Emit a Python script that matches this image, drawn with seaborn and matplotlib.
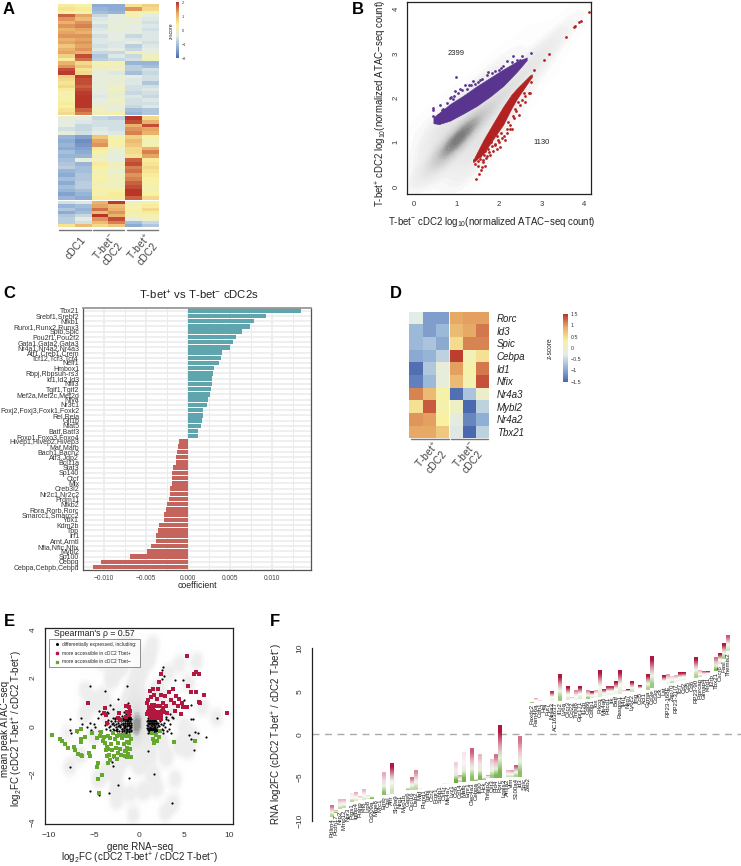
import numpy as np
import pandas as pd
import seaborn as sns
import matplotlib.pyplot as plt
from matplotlib.colors import LinearSegmentedColormap, to_rgb
from matplotlib.lines import Line2D
from matplotlib.cm import ScalarMappable
from matplotlib.colors import Normalize

W, H = 741, 866

# panel A, z-scores read row by row
sample_cols = ['cDC1_1', 'cDC1_2', 'neg_1', 'neg_2', 'pos_1', 'pos_2']
heat_a_top = [
    [0.4, 0.3, -1.1, -1.1, 0.5, 0.7], [0.5, 0.4, -1.0, -1.1, 1.2, 0.6], [0.3, 0.2, -0.9, -1.0, 0.2, 0.3],
    [1.5, 1.1, -0.6, -0.3, 0.2, -0.3], [1.2, 0.9, -0.4, -0.3, -0.2, -0.4], [1.0, 1.2, -0.3, -0.2, -0.1, -0.5],
    [1.2, 1.3, -0.5, -0.2, -0.3, -0.4], [1.0, 1.1, -0.4, -0.2, -0.3, -0.5], [1.1, 1.0, -0.3, -0.3, -0.2, -0.4],
    [1.2, 1.2, -0.5, -0.3, -0.6, -0.4], [1.0, 1.1, -0.4, -0.3, -0.4, -0.4], [1.1, 1.2, -0.4, -0.4, -0.3, -0.5],
    [0.8, 1.1, -0.5, -0.4, -0.7, -0.4], [1.0, 1.2, -0.4, -0.3, -0.6, -0.3], [1.1, 1.0, -0.6, -0.6, 0.1, -0.2],
    [0.7, 1.6, -0.8, -0.4, -0.6, 0.0], [0.4, 1.4, -0.7, -0.6, -0.5, 0.1], [1.0, 0.6, 0.2, 0.2, -1.0, -1.0],
    [1.2, 0.8, 0.1, -0.1, -0.7, -0.9], [1.6, 0.5, -0.1, 0.0, -0.7, -0.5], [1.7, 0.6, -0.2, -0.4, -0.9, -0.6],
    [0.7, 1.7, -0.3, -0.2, -0.3, -0.5], [0.6, 1.6, -0.2, -0.1, -0.4, -0.5], [0.5, 1.6, -0.3, -0.2, -0.4, -0.8],
    [0.6, 1.5, -0.1, 0.0, -0.5, -0.5], [0.4, 1.6, -0.3, 0.0, -0.5, -0.4], [0.2, 1.7, -0.3, -0.1, -0.6, -0.5],
    [0.2, 1.9, -0.4, -0.2, -0.4, -0.6], [0.3, 2.0, -0.3, 0.0, -0.5, -0.4], [0.4, 1.9, -0.2, -0.1, -0.5, -0.5],
    [0.3, 1.8, -0.1, -0.2, -0.6, -0.4], [0.5, 1.5, 0.0, -0.2, -0.9, -0.8], [0.6, 1.3, 0.1, 0.2, -1.0, -0.8],
]
heat_a_mid = [
    [-0.2, -0.3, -0.6, -0.7, 1.9, 0.6], [-0.3, -0.4, -0.5, -0.5, 1.6, 1.0], [-0.3, -0.6, -0.5, -0.5, 1.0, 1.6],
    [-0.5, -0.6, -0.4, -0.5, 1.2, 1.1], [-0.2, -0.5, -0.3, -0.4, 1.3, 1.0], [-1.0, -1.2, 0.8, 0.2, 0.7, 0.3],
    [-1.1, -1.4, 1.1, 0.3, 0.9, 0.1], [-1.0, -1.3, 1.2, 0.2, 0.8, 0.2], [-1.1, -1.2, 0.4, 0.0, 0.6, 1.0],
    [-0.9, -1.1, 0.3, -0.2, 0.6, 1.3], [-1.0, -1.0, 0.1, -0.2, 0.5, 1.1], [-0.9, -0.2, 0.0, -0.3, 1.5, 0.4],
    [-0.8, -1.0, 0.4, 0.1, 1.6, 0.5], [-0.7, -0.9, 0.3, 0.0, 1.3, 0.6], [-1.0, -0.9, 0.2, -0.1, 1.4, 0.5],
    [-1.1, -0.8, 0.2, 0.0, 1.2, 0.4], [-0.9, -0.8, 0.3, 0.1, 1.3, 0.3], [-1.1, -0.7, 0.1, 0.0, 1.5, 0.3],
    [-0.9, -0.7, 0.2, 0.1, 1.6, 0.2], [-1.0, -0.9, 0.3, 0.3, 1.9, 0.2], [-1.2, -1.0, 0.2, 0.4, 1.8, 0.3],
    [-1.0, -1.1, 0.4, 0.4, 1.5, 0.6],
]
heat_a_low = [
    [-0.5, -0.4, 1.0, 1.7, 0.0, 0.2], [-1.0, -0.9, 1.1, 0.9, 0.2, 0.4], [-0.8, -1.0, 1.4, 1.0, 0.3, 0.6],
    [-1.1, -0.9, 0.9, 1.2, 0.1, 0.4], [-0.8, -0.6, 1.8, 1.0, 0.2, 0.2], [-0.7, -0.3, 1.2, 1.6, -0.3, 0.0],
    [-0.7, -0.5, 0.9, 1.3, -0.9, -0.6], [0.5, 0.9, 0.6, 0.8, -1.1, -0.8],
]
heat_colors = ['#4B69AE', '#93B2D6', '#E3ECE6', '#F9F1A0', '#E9AE68', '#B8352A']

# panel B, edges of the two dense clouds and the stragglers around them
purple_x = [0.47, 0.60, 0.86, 1.17, 1.48, 1.79, 2.10, 2.42, 2.65]
purple_low = [1.43, 1.41, 1.49, 1.65, 1.82, 2.03, 2.27, 2.59, 2.85]
purple_high = [1.56, 1.66, 1.86, 2.05, 2.26, 2.45, 2.64, 2.82, 2.91]
red_x = [1.40, 1.64, 1.87, 2.10, 2.30, 2.42, 2.73, 2.77]
red_high = [0.60, 1.05, 1.43, 1.80, 2.08, 2.21, 2.51, 2.53]
red_low = [0.55, 0.75, 1.08, 1.40, 1.78, 1.98, 2.42, 2.47]
purple_pts_x = [1.0, 2.34, 2.55, 2.75, 2.2, 1.75, 1.72, 2.05, 1.4, 1.45, 1.3, 1.2, 1.13, 1.1, 0.98, 0.87, 0.93, 0.62,
                0.47, 0.47, 0.7, 0.45, 0.85, 1.05, 1.55, 1.6, 1.9, 2.1, 2.3, 2.42, 2.6, 2.5, 0.52, 0.58, 0.66, 0.78,
                1.25, 1.5, 1.85, 2.0, 0.55, 0.5, 0.95, 1.35]
purple_pts_y = [2.47, 2.95, 2.95, 3.02, 2.82, 2.58, 2.52, 2.68, 2.38, 2.32, 2.28, 2.28, 2.17, 2.2, 2.15, 2.02, 1.98, 1.83,
                1.78, 1.72, 1.75, 1.6, 2.0, 2.1, 2.4, 2.42, 2.6, 2.72, 2.8, 2.85, 2.85, 2.85, 1.5, 1.62, 1.72, 1.88,
                2.2, 2.36, 2.55, 2.62, 1.45, 1.52, 2.05, 2.3]
red_pts_x = [1.47, 1.53, 1.58, 1.6, 1.68, 1.52, 1.63, 1.8, 1.95, 2.03, 2.15, 2.3, 2.27, 2.47, 2.6, 2.73, 2.7, 2.75, 2.83,
             3.06, 3.17, 3.56, 3.75, 3.78, 3.87, 3.93, 4.1, 1.42, 1.5, 1.57, 1.72, 1.86, 1.9, 2.0, 2.08, 2.12, 2.2,
             2.25, 2.35, 2.4, 2.5, 2.55, 2.62, 1.75, 1.66, 1.55, 1.7, 1.78, 1.84, 1.92, 1.98, 2.05, 2.18, 2.22, 2.32,
             2.38, 2.45, 2.58, 1.45, 1.62, 1.68, 1.82, 1.96]
red_pts_y = [0.17, 0.28, 0.38, 0.44, 0.47, 0.46, 0.55, 0.72, 0.85, 0.9, 1.05, 1.3, 1.3, 1.62, 1.9, 2.1, 2.12, 2.35, 2.63,
             2.85, 2.99, 3.38, 3.6, 3.62, 3.7, 3.73, 3.93, 0.6, 0.58, 0.62, 0.7, 0.8, 0.95, 1.0, 1.1, 1.15, 1.3,
             1.4, 1.55, 1.7, 1.85, 1.95, 2.05, 0.85, 0.72, 0.68, 0.64, 0.78, 0.92, 0.96, 1.05, 1.2, 1.22, 1.45, 1.6,
             1.75, 1.9, 2.12, 0.52, 0.6, 0.8, 1.0, 1.15]
dens_b_x = [1.0, 1.0, 1.2, 0.8, 1.5, 1.8, 2.1, 2.4, 2.7, 3.0, 3.3, 3.6, 3.9, 0.6, 0.4, 0.1, 0.3, 0.1, 0.8, 1.0, 0.9, 0.2,
            1.4, 0.7, 1.8, 1.1, 2.2, 1.5, 2.6, 1.9, 3.0, 2.4, 0.4, 1.3, 0.6, 1.6]
dens_b_y = [1.0, 1.1, 1.25, 0.75, 1.5, 1.75, 2.1, 2.4, 2.7, 3.0, 3.3, 3.6, 3.85, 0.6, 1.0, 1.2, 0.3, 0.2, 0.4, 0.05, 0.1, 0.6,
            0.8, 1.3, 1.2, 1.8, 1.7, 2.2, 2.2, 2.6, 2.7, 3.0, 0.6, 0.3, 1.6, 0.6]
dens_b_w = [30, 25, 18, 10, 12, 9, 7, 6, 5, 3.5, 2.5, 1.5, 0.6, 4, 1.5, 1.2, 1.2, 0.8, 2, 0.8, 0.8, 0.8,
            10, 10, 6, 6, 4, 4, 2.5, 2.5, 1.5, 1.5, 1.5, 2, 2, 2]

# panel C
motif_names = ['Tbx21', 'Srebf1,Srebf2', 'Nfkb1', 'Runx1,Runx2,Runx3', 'Spib,Spic', 'Pou2f1,Pou2f2',
               'Gata1,Gata2,Gata3', 'Nr4a1,Nr4a2,Nr4a3', 'Atf1,Creb1,Crem', 'Tcf12,Tcf3,Tcf4', 'Nelf1', 'Hmbox1',
               'Rbpj,Rbpsuh-rs3', 'Id1,Id2,Id3', 'Nfil3', 'Tgif1,Tgif2', 'Mef2a,Mef2c,Mef2d', 'Nfya', 'Nr3c1',
               'Foxj2,Foxj3,Foxk1,Foxk2', 'Rel,Rela', 'Gfi1b', 'Nfat5', 'Batf,Batf3', 'Foxo1,Foxo3,Foxo4',
               'Hivep1,Hivep2,Hivep3', 'Maf,Mafb', 'Bach1,Bach2', 'Atf3,Jdp2', 'Bcl11a', 'Stat3', 'Sp140', 'Ctcf',
               'Mlx', 'Creb3l2', 'Nr2c1,Nr2c2', 'Prdm11', 'Nfkb2', 'Rora,Rorb,Rorc', 'Smarcc1,Smarcc2', 'Ybx1',
               'Kdm2b', 'Tbp', 'Irf1', 'Arnt,Arntl', 'Nfia,Nfic,Nfix', 'Mybl2', 'Sp100', 'Cebpg', 'Cebpa,Cebpb,Cebpd']
motif_coef = [0.0134, 0.0092, 0.0078, 0.0073, 0.0064, 0.0057, 0.0053, 0.0050, 0.0040, 0.0039, 0.0037, 0.0030,
              0.0029, 0.0028, 0.0028, 0.0027, 0.0026, 0.0024, 0.0022, 0.0018, 0.0018, 0.0016, 0.0015, 0.0012, 0.0011,
              -0.0011, -0.0012, -0.0014, -0.0015, -0.0015, -0.0018, -0.0019, -0.0019, -0.0019, -0.0022, -0.0022,
              -0.0023, -0.0025, -0.0026, -0.0029, -0.0029, -0.0035, -0.0036, -0.0038, -0.0038, -0.0045, -0.0049,
              -0.0069, -0.0104, -0.0113]

# panel D
d_genes = ['Rorc', 'Id3', 'Spic', 'Cebpa', 'Id1', 'Nfix', 'Nr4a3', 'Mybl2', 'Nr4a2', 'Tbx21']
d_values = [
    [-0.3, -1.1, -1.1, 0.95, 1.0, 1.0],
    [-0.85, -1.1, -0.85, 0.8, 0.95, 1.2],
    [-0.85, -0.75, -1.0, 0.5, 1.15, 1.15],
    [-1.0, -0.9, -0.6, 1.5, 0.1, 0.45],
    [-1.5, -0.7, -0.2, 1.0, 0.2, 1.2],
    [-1.35, -0.85, -0.2, 0.8, 0.15, 1.4],
    [1.15, 0.8, 0.25, -1.5, -0.75, -0.05],
    [0.45, 1.35, 0.2, 0.0, -1.55, -0.6],
    [1.05, 1.0, 0.3, -0.25, -1.3, -0.95],
    [0.95, 0.95, 0.7, -0.35, -1.55, -0.6],
]

# panel E
e_black_x = [-5.4, -3.8, -2.3, -1.3, -1.2, 2.7, 2.5, 2.8, 2.5, 4.0, 4.9, 5.0, 5.7, 6.0, 5.8, 8.6, 6.2, 6.5, 7.4, 5.8, 5.5, 6.1,
             1.6, 3.6, -2.3, -1.1, -5.4, -4.4, -3.3, -7.7, -2.9, -3.0, -2.9, -7.7, -6.5, -7.7, -7.6, -6.9, -6.3, -5.8, -5.4,
             -5.0, -4.6, -4.5, -4.5, -4.9, -5.3, -4.2, -3.2, -2.9, -2.7, -1.7, -2.6, -3.4, -3.6,
             -3.8, -3.6, -3.4, -3.2, -3.0, -2.8, -2.6, -2.4, -2.2, -2.0, -1.8, -1.6, -1.4, -1.2, -1.0, -0.9,
             -3.7, -3.3, -2.9, -2.5, -2.1, -1.9, -1.7, -1.5, -1.3, -1.1, -0.95, -3.5, -3.1, -2.7, -2.3, -2.0, -1.8, -1.6, -1.4,
             -1.2, -1.0, -2.5, -2.2, -1.9, -1.7, -1.5, -1.3, -1.1, -0.9, -2.9, -2.4, -2.1, -1.8, -1.6, -1.4, -1.2, -1.0, -1.5,
             -1.2, -1.0, -1.7, -0.9, -1.1, -1.3,
             -2.95, -2.65, -2.35, -2.15, -1.95, -1.75, -1.55, -1.35, -1.15, -1.05, -0.92, -2.05, -1.85, -1.65, -1.45, -1.25,
             -1.08, -0.98, -1.95, -1.72, -1.52, -1.32, -1.12, -0.96, -2.25, -1.9, -1.62, -1.42, -1.22, -1.02, -3.2, -2.75,
             -2.55, -1.78, -1.58, -1.38, -1.18, -0.94, -1.48, -1.28, -1.06,
             0.9, 1.0, 1.1, 1.2, 1.3, 1.4, 1.5, 1.6, 1.7, 1.8, 1.9, 2.0, 2.1, 2.2, 0.95, 1.05, 1.15, 1.25, 1.35, 1.45,
             1.55, 1.65, 1.75, 1.85, 1.95, 2.05, 0.9, 1.0, 1.1, 1.2, 1.3, 1.4, 1.5, 1.6, 1.7, 1.8, 1.9, 0.95, 1.1, 1.25,
             1.4, 1.55, 1.7, 2.4, 2.6, 2.8, 3.0, 3.2, 3.4, 3.6, 3.8, 2.5, 2.7, 2.9, 3.1, 3.3, 3.5, 2.3, 2.6, 3.0, 3.4, 1.0,
             0.92, 1.02, 1.12, 1.22, 1.32, 1.42, 1.52, 1.62, 1.72, 1.82, 0.98, 1.08, 1.18, 1.28, 1.38, 1.48, 1.58, 1.68,
             1.78, 1.88, 1.98, 2.08, 1.03, 1.17, 1.33, 1.47, 1.63, 1.77]
e_black_y = [1.65, 1.45, 1.15, 1.65, 0.95, 2.45, 2.35, 2.1, 1.95, 1.9, 1.9, 1.1, 0.9, 0.3, 0.3, 0.35, -0.25, -0.3, -0.45, -0.55, -0.35, -1.0,
             -2.0, -3.2, -2.45, -2.15, -2.7, -2.85, -2.8, -1.7, -1.65, -1.5, -1.3, 0.3, 0.35, -0.15, -0.3, -0.25, 0.1, -0.05, 0.15,
             0.1, 0.35, 0.65, -0.2, -0.05, -0.15, 0.5, 0.9, 0.7, 0.35, 0.6, -0.15, 0.55, 0.6,
             0.05, 0.1, 0.15, 0.0, 0.1, 0.05, 0.1, 0.0, 0.05, 0.1, 0.05, 0.0, 0.1, 0.05, 0.0, 0.05,
             -0.1, -0.05, -0.1, -0.1, -0.05, -0.1, -0.15, -0.1, -0.15, -0.1, -0.15, 0.25, 0.2, 0.2, 0.2, 0.2, 0.25, 0.2, 0.2,
             0.25, 0.2, -0.2, -0.2, -0.22, -0.2, -0.25, -0.2, -0.25, -0.2, 0.35, 0.35, 0.35, 0.35, 0.3, 0.35, 0.35, 0.35, 0.42,
             0.45, 0.4, -0.02, 0.3, 0.15, 0.12,
             0.14, 0.28, 0.12, 0.0, -0.12, 0.14, 0.12, 0.02, 0.14, -0.05, 0.12, 0.28, -0.28, -0.06, 0.28, 0.3,
             0.06, -0.08, 0.42, 0.3, -0.02, 0.24, -0.22, 0.34, 0.3, -0.28, 0.06, -0.28, 0.22, 0.5, -0.15, -0.18,
             -0.05, 0.08, 0.34, -0.1, 0.34, -0.05, 0.5, 0.4, 0.28,
             0.05, 0.0, 0.1, -0.05, 0.05, 0.0, 0.1, -0.05, 0.05, 0.0, 0.1, -0.05, 0.05, 0.0, -0.15, -0.2, -0.15, -0.2, -0.15,
             -0.2, -0.15, -0.2, -0.15, -0.2, -0.15, -0.2, 0.2, 0.25, 0.2, 0.25, 0.2, 0.25, 0.2, 0.25, 0.2, 0.25, 0.2, 0.32,
             0.35, 0.32, 0.35, 0.32, 0.35, 0.1, 0.05, 0.15, 0.3, 0.25, 0.1, 0.4, 0.35, -0.1, -0.15, -0.05, -0.2, -0.1, -0.3,
             0.2, -0.3, 0.4, 0.5, -1.05,
             -0.08, -0.1, -0.06, -0.1, -0.06, -0.1, -0.06, -0.1, -0.06, -0.1, 0.14, 0.14, 0.14, 0.14, 0.14, 0.14, 0.14, 0.14,
             0.14, 0.14, 0.14, 0.14, -0.28, -0.3, -0.28, -0.3, -0.28, -0.3]
e_red_x = [5.3, 6.3, 6.6, 6.1, 5.4, 6.3, 5.7, 7.2, 6.6, 6.7, 5.3, 4.1, 4.4, 4.7, 4.9, 4.3, 3.9, 3.7, 3.3, 3.5, 4.0, 4.6, 9.7, 2.4, 2.2,
           2.1, 1.5, 1.2, 1.0, 0.9, 1.3, 1.7, 2.0, 2.4, 2.9, 2.7, 3.0, 1.1, 1.4, 1.7, 2.0, 2.3, 1.0, 1.3, 1.6, 1.9, 2.2, 2.5,
           2.8, 3.1, 0.9, 1.2, 1.5, 1.8, 2.1, 2.4, 1.1, 1.5, 2.6, 1.3, 1.7, 2.0, 2.4, -5.7, -3.8, -3.9, -3.7, -3.6, -2.2, -2.3,
           -2.1, -1.5, -1.3, -1.1, -1.0, -1.3, -1.1, -1.5]
e_red_y = [2.9, 2.25, 2.15, 2.15, 1.65, 1.4, 1.4, 1.28, 1.0, 0.95, 0.8, 1.25, 1.15, 0.95, 0.8, 0.85, 0.95, 1.55, 1.4, 1.1, 0.65, 0.5, 0.55, 2.15, 1.85,
           1.55, 1.55, 1.45, 1.1, 0.95, 1.2, 1.3, 1.15, 1.3, 1.25, 0.95, 0.85, 0.8, 0.9, 0.9, 0.85, 0.85, 0.6, 0.6, 0.65, 0.6, 0.6, 0.65,
           0.6, 0.55, 0.5, 0.45, 0.45, 0.45, 0.45, 0.45, 0.7, 0.75, 0.75, 0.35, 0.35, 0.35, 0.3, 0.98, 0.75, 0.55, 0.45, 0.15, 0.55, 0.35,
           0.25, 0.85, 0.85, 0.8, 0.65, 0.6, 0.45, 0.4]
e_green_x = [-9.7, -8.8, -8.6, -8.2, -7.9, -7.2, -7.1, -6.9, -6.4, -6.5, -6.4, -6.0, -6.8, -6.3, -6.4, -5.6, -5.5, -5.0, -4.7, -4.6, -4.6, -4.1,
             -4.5, -5.2, -4.7, -4.3, -4.2, -4.0, -3.8, -3.6, -3.4, -3.9, -3.5, -3.2, -3.1, -3.0, -3.3, -3.6, -3.4, -2.8, -2.6, -2.7, -2.5,
             -2.3, -2.1, -2.0, -1.9, -1.7, -1.6, -1.5, -1.4, -1.3, -1.2, -1.1, -1.1, -1.0, -0.9, -0.95, -1.8, -2.2, -2.9, -1.6, -1.35,
             -3.7, -3.2, 1.4, 1.5, 1.6, 1.9, 2.0, 2.3, 2.2, 3.9, 6.2, -1.5, -2.4, -2.5]
e_green_y = [-0.38, -0.55, -0.6, -0.75, -0.9, -0.85, -1.0, -0.2, -0.1, -0.55, -0.65, -0.45, -1.15, -1.25, -1.2, -1.1, -1.25, -0.85, -1.7, -1.55, -2.2, -2.05,
             -2.8, -0.3, -0.5, -0.4, -0.25, -0.6, -0.7, -0.85, -0.95, -0.45, -0.4, -0.5, -0.75, -1.0, -1.2, -1.25, -1.55, -1.25, -0.9, -0.55, -0.4,
             -0.7, -0.95, -1.2, -0.5, -0.75, -1.05, -0.4, -0.65, -0.9, -1.15, -0.4, -0.7, -0.95, -1.3, -0.55, -0.35, -0.35, -0.3, -1.25, -1.3,
             -1.0, -1.4, -0.3, -0.55, -0.7, -0.35, -0.6, -0.2, -0.45, -0.65, -0.6, -1.05, -1.1, -1.35]
dens_e_x = [-0.3, -0.3, -0.3, 0.0, -1.0, -0.5, -1.5, -2.5, -3.5, 0.5, 1.0, -0.6, -2.0, 1.0, -3.0, 0.0, 2.0, 2.8, -4.0, 3.5,
            -5.0, -6.0, -2.5, 1.0, -1.5, 1.5, 3.0, 4.5, 6.4, 5.5, 7.0, 8.6, 6.0, 4.5, -7.7, -6.5, -5.0, -3.5, -4.5, -2.5,
            -0.65, 2.9, -2.5, 3.8, 0.5, -1.0, 2.0, 4.0, 5.5, -8.0, -6.0, 1.5, 3.2, -1.5, 0.0, 2.5, 5.0, -4.0]
dens_e_y = [0.0, 0.5, -0.5, 1.0, 1.0, 1.6, 0.3, 0.4, 0.5, 0.3, -0.4, 3.2, 2.5, 2.8, 2.0, 2.2, 1.5, 1.0, 1.2, 0.6,
            1.0, 0.5, -1.8, -1.2, -1.2, -2.0, -1.3, -0.8, 2.7, 1.8, 0.8, 0.35, -0.4, 2.6, -1.7, -1.2, -0.4, -1.8, -2.2, -2.6,
            -3.7, -3.6, -3.1, -3.2, -2.7, -2.8, -2.6, -2.2, -1.0, -0.3, 1.5, 3.4, 2.2, 3.5, -1.6, -0.6, 0.0, 2.7]
dens_e_w = [14, 8, 7, 5, 4, 3, 4, 3, 2, 4, 3, 1.5, 2, 2, 2, 2.5, 2, 2, 1.5, 1.5,
            1.5, 1.5, 2, 2.5, 2.5, 1.5, 1.5, 1.5, 1.2, 1.2, 1.2, 1.2, 1.2, 1.2, 1.2, 1.2, 1.5, 1.5, 1.5, 1.5,
            1.2, 1.2, 1.2, 1.2, 1.5, 1.2, 1.2, 1.2, 1.2, 0.9, 1.2, 1.2, 1.2, 1.2, 2, 1.5, 1.2, 1.2]

# panel F, one entry per gene, names only partly legible in the reference
gene_names = ['Pdlim4', 'Pcdh17', 'Nrp2', 'Mmp12', 'Npr3', 'Ptgs1', 'Igfbp4', 'Pianp', 'Klf8', 'Lrp8', 'Cd209a', 'Mfge8',
              'Mrc1', 'Emb', 'Ctsl', 'Ahr', 'Slc9a9', 'Nrg1', 'Myo1b', 'Gas6', 'Cxcl16', 'Dab2', 'Maf', 'Plxnd1', 'Tgfbi',
              'Ccr2', 'Fcgr1', 'Sirpb1', 'Csf1r', 'Ms4a7', 'Lyz1', 'Ccl6', 'Cd14', 'Mafb', 'Emr1', 'Clec4a3', 'Cebpa',
              'Ifi30', 'Hck', 'Tnfaip2', 'Cst3', 'Pld4', 'Rorc', 'Lgals3', 'Anxa2', 'Vim', 'S100a4', 'Id3', 'Spic', 'Zeb2',
              'Faxdc2', 'Fam46a', 'Cdh1', 'Hal', 'Fut7', 'Nr4a3', 'AC163637', 'Il1r2', 'Ly6a', 'Cxcr3', 'Ccl22', 'Tnfsf8',
              'Gpr171', 'Il12b', 'Cd86', 'Cd8b1', 'Tox', 'Prkcq', 'Ms4a6', 'Pdcd1', 'Itk', 'Batf', 'Rasgrp1', 'Il4i1', 'Nkg7',
              'Ly6c2', 'Ifng', 'Ccl5', 'Xcl1', 'Gzma', 'Cd3e', 'Cd3g', 'Lck', 'Lat', 'RP23-168E', 'Zap70', 'RP23-31I7', 'Tcf7',
              'Cd2', 'Cd5', 'Cd6', 'RP23-90', 'Ptprcap', 'Gimap4', 'Klrd1', 'Il2rb', 'Tbx21', 'Cxcr6', 'Fasl', 'Themis2']
rna_base = [-9.6, -9.1, -8.7, -8.6, -8.4, -7.9, -7.7, -7.6, -7.6, -7.5, -7.5, -7.4, -7.3, -7.0, -7.0, -6.9, -6.8, -6.8, -6.7, -6.5,
            -6.5, -6.5, -6.3, -6.2, -6.1, -6.1, -6.0, -5.8, -5.8, -5.8, -5.7, -5.7, -5.5, -5.5, -5.4, -5.4, -5.4, -5.3, -5.3, -5.1,
            -5.1, -5.1, -5.1, -5.0, -5.0, -4.9, -4.9, -4.9, -4.9, -4.8,
            3.7, 3.75, 3.8, 3.8, 3.85, 3.9, 3.9, 3.9, 3.95, 4.0, 4.0, 4.05, 4.1, 4.1, 4.15, 4.2, 4.3, 4.4, 4.5, 4.55,
            4.6, 4.7, 4.75, 4.8, 4.85, 4.9, 5.0, 5.05, 5.1, 5.2, 5.4, 5.5, 5.6, 5.7, 5.85, 6.0, 6.1, 6.2, 6.3, 6.4,
            6.5, 6.6, 6.7, 6.8, 6.9, 7.2, 7.4, 8.2, 8.8, 9.7]
peak_idx = [0, 1, 2, 3, 5, 6, 7, 8, 9, 10, 13, 14, 15, 19, 20, 21, 22, 28, 29, 31, 32, 33, 35, 36, 37, 38, 39, 40, 41, 42, 44, 45, 46, 47,
            50, 51, 52, 55, 57, 59, 60, 61, 62, 64, 65, 66, 67, 68, 69, 70, 71, 72, 73, 74, 75, 77, 79, 80, 83, 84, 85, 86, 87, 88,
            91, 92, 93, 94, 96, 97, 98, 99]
peak_top = [-8.3, -8.8, -7.6, -7.6, -6.9, -6.7, -7.2, -6.4, -7.1, -6.9, -4.4, -6.8, -3.4, -6.0, -5.1, -4.2, -6.2, -5.7, -5.7, -3.3, -4.8, -2.1,
            -1.6, -4.9, -2.3, -4.7, -4.8, -3.0, -2.4, 1.0, -4.25, -4.2, -3.6, -0.25,
            3.9, 4.2, 4.0, 4.95, 6.96, 5.6, 4.3, 5.1, 5.6, 5.1, 4.9, 5.0, 7.46, 5.3, 5.5, 5.6, 6.1, 7.46, 5.1, 5.2, 6.1, 5.7, 7.0, 9.0,
            6.8, 6.9, 6.7, 6.9, 7.2, 7.2, 9.0, 7.4, 7.3, 7.3, 9.0, 9.4, 10.55, 11.5]
peak_red = [0.6, 0.4, 0.3, 0.3, 0.1, 0.35, 0.25, 0.3, 0.15, 0.0, 0.35, 0.0, 1.0, 0.0, 0.6, 0.5, 0.3, 0.0, 0.15, 0.2, 0.4, 0.1,
            0.7, 0.0, 0.3, 0.0, 0.5, 0.25, 0.6, 1.0, 0.3, 0.4, 0.7, 0.6,
            0.0, 0.35, 0.25, 0.9, 1.0, 1.0, 0.3, 0.5, 1.0, 0.5, 1.0, 0.35, 1.0, 0.9, 0.9, 0.9, 1.0, 1.0, 0.3, 1.0, 1.0, 1.0, 1.0, 1.0,
            1.0, 0.4, 0.2, 0.35, 1.0, 1.0, 1.0, 0.3, 0.7, 0.9, 0.6, 1.0, 1.0, 0.7]
peak_green = [0.5, 0.9, 0.4, 0.4, 0.45, 0.2, 0.1, 0.2, 0.25, 0.8, 0.7, 0.3, 0.3, 0.6, 0.4, 0.4, 0.0, 0.3, 0.0, 0.9, 0.4, 0.85,
              0.7, 0.6, 0.8, 0.6, 0.3, 0.6, 0.8, 0.8, 0.3, 0.3, 0.5, 0.7,
              1.0, 0.0, 0.0, 0.1, 0.6, 0.2, 0.0, 0.1, 0.2, 0.6, 0.2, 0.1, 0.2, 0.1, 0.1, 0.1, 0.1, 0.2, 0.0, 0.0, 0.3, 0.0, 0.5, 0.6,
              0.0, 0.1, 0.4, 0.1, 0.1, 0.1, 0.5, 0.3, 0.1, 0.1, 0.8, 0.2, 0.5, 0.3]


def add_ax(x0, y0, x1, y1):
    # pixel box measured from the top left of the figure
    return fig.add_axes([x0 / W, 1 - y1 / H, (x1 - x0) / W, (y1 - y0) / H])


def put_text(x, y, s, **kw):
    kw.setdefault('ha', 'center')
    kw.setdefault('va', 'center')
    kw.setdefault('color', '#222222')
    fig.text(x / W, 1 - y / H, s, **kw)


def group_bar(x0, x1, y):
    fig.add_artist(Line2D([x0 / W, x1 / W], [1 - y / H, 1 - y / H], color='#777777', lw=1))


def z_bar(box, vmin, vmax, ticks, fs):
    cax = add_ax(*box)
    fig.colorbar(ScalarMappable(Normalize(vmin, vmax), heat_cmap), cax=cax, ticks=ticks)
    cax.tick_params(labelsize=fs, length=0, pad=1.5, colors='#333333')
    cax.set_yticklabels([str(t).replace('-', '\u2212') for t in ticks])
    cax.collections[0].set_edgecolor('face')
    for s in cax.spines.values():
        s.set_visible(False)


def r_axes(ax):
    for s in ax.spines.values():
        s.set_linewidth(0.9)
        s.set_color('#222222')
    ax.tick_params(axis='both', length=3, width=0.8, color='#222222', labelcolor='#333333')
    for t in ax.get_yticklabels():
        t.set_rotation(90)
        t.set_va('center')


sns.set_theme(style='white')
plt.rcParams['font.family'] = ['Liberation Sans', 'DejaVu Sans']
plt.rcParams['mathtext.fontset'] = 'custom'
plt.rcParams['mathtext.rm'] = 'Liberation Sans'
plt.rcParams['mathtext.it'] = 'Liberation Sans:italic'
plt.rcParams['mathtext.bf'] = 'Liberation Sans:bold'
plt.rcParams['mathtext.default'] = 'regular'
plt.rcParams['axes.unicode_minus'] = True

heat_cmap = LinearSegmentedColormap.from_list('zscore', heat_colors)
grey_b = LinearSegmentedColormap.from_list('grey_b', [(0, '#ffffff'), (0.06, '#f0f0f0'), (0.55, '#c4c4c4'), (1, '#777777')])
grey_e = LinearSegmentedColormap.from_list('grey_e', [(0, '#ffffff'), (0.05, '#eeeeee'), (0.6, '#dedede'), (1, '#8a8a8a')])

fig = plt.figure(figsize=(W / 100, H / 100), dpi=100)

for letter, px, py in [('A', 9, 9), ('B', 358, 9), ('C', 9, 294), ('D', 396, 294), ('E', 9, 622), ('F', 275, 622)]:
    put_text(px, py, letter, fontsize=12, fontweight='bold', color='black')

# ---- A
boxes_a = [(4, 115), (116, 200), (201, 227)]
for (y0, y1), rows in zip(boxes_a, [heat_a_top, heat_a_mid, heat_a_low]):
    ax = add_ax(58, y0, 158.7, y1)
    sns.heatmap(pd.DataFrame(rows, columns=sample_cols), ax=ax, cmap=heat_cmap, vmin=-1.75, vmax=1.75, cbar=False,
                xticklabels=False, yticklabels=False, rasterized=True)
    ax.set_ylabel('')
group_bar(59, 90.7, 230)
group_bar(92.7, 124, 230)
group_bar(126.7, 158.3, 230)
put_text(76, 248, 'cDC1', rotation=50, fontsize=7.5, color='#444444')
put_text(108, 250, 'T-bet$^{-}$\ncDC2', rotation=50, fontsize=7.5, color='#444444', linespacing=1.0)
put_text(143, 250, 'T-bet$^{+}$\ncDC2', rotation=50, fontsize=7.5, color='#444444', linespacing=1.0)
z_bar((175.7, 2.3, 179.3, 58.3), -2, 2, [-2, -1, 0, 1, 2], 2.8)
put_text(171.5, 31, 'z-score', rotation=90, fontsize=3.6)

# ---- B
ax = add_ax(406.7, 2, 591.3, 194)
sns.kdeplot(x=dens_b_x, y=dens_b_y, weights=dens_b_w, fill=True, cmap=grey_b, levels=30, thresh=0.004,
            bw_adjust=0.8, gridsize=150, ax=ax)
ax.fill_between(purple_x, purple_low, purple_high, color='#5A3590', lw=0.5)
ax.fill_between(red_x, red_low, red_high, color='#B22222', lw=0.5)
sns.scatterplot(x=purple_pts_x, y=purple_pts_y, color='#5A3590', s=4, lw=0, ax=ax)
sns.scatterplot(x=red_pts_x, y=red_pts_y, color='#B22222', s=4, lw=0, ax=ax)
ax.text(0.99, 3.0, '2399', fontsize=5.5, ha='center', va='center', color='#222222')
ax.text(3.0, 0.99, '1130', fontsize=5.5, ha='center', va='center', color='#222222')
ax.set_xlim(-0.155, 4.16)
ax.set_ylim(-0.165, 4.16)
ax.set_xticks([0, 1, 2, 3, 4])
ax.set_yticks([0, 1, 2, 3, 4])
ax.tick_params(labelsize=5.5, pad=2)
r_axes(ax)
ax.set_xlabel('')
ax.set_ylabel('')
put_text(492, 222, 'T-bet$^{-}$ cDC2 log$_{10}$(normalized ATAC\u2212seq count)', fontsize=6.9)
put_text(381.7, 103, 'T-bet$^{+}$ cDC2 log$_{10}$(normalized ATAC\u2212seq count)', fontsize=6.9, rotation=90)

# ---- C
ax = add_ax(83.3, 307.7, 310.7, 570)
motif_df = pd.DataFrame({'motif': motif_names, 'coef': motif_coef})
motif_df['side'] = np.where(motif_df['coef'] > 0, 'up', 'down')
ax.set_axisbelow(True)
sns.barplot(data=motif_df, x='coef', y='motif', hue='side', palette={'up': '#5FA5AD', 'down': '#C4645C'},
            dodge=False, width=0.86, legend=False, saturation=1, linewidth=0, ax=ax)
ax.set_xlim(-0.0125, 0.01457)
ax.set_ylim(49.57, -0.57)
ax.set_xticks([-0.01, -0.005, 0, 0.005, 0.01])
ax.set_xticklabels(['\u22120.010', '\u22120.005', '0.000', '0.005', '0.010'])
ax.set_xticks([-0.0075, -0.0025, 0.0025, 0.0075, 0.0125], minor=True)
ax.grid(True, axis='y', color='#ebebeb', lw=1.1)
ax.grid(True, axis='x', which='major', color='#ebebeb', lw=1.1)
ax.grid(True, axis='x', which='minor', color='#ebebeb', lw=0.7)
ax.tick_params(axis='x', which='major', labelsize=4.8, length=2, width=0.6, pad=1.5, color='#333333', labelcolor='#444444')
ax.tick_params(axis='x', which='minor', length=0)
ax.tick_params(axis='y', labelsize=5.0, length=2, width=0.6, pad=1, color='#333333', labelcolor='#333333')
for s in ax.spines.values():
    s.set_color('#555555')
    s.set_linewidth(0.9)
ax.spines['top'].set_color('#999999')
ax.spines['top'].set_linewidth(1.3)
ax.set_xlabel('')
ax.set_ylabel('')
put_text(199, 295, 'T-bet$^{+}$ vs T-bet$^{-}$ cDC2s', fontsize=8.2)
put_text(197, 586, 'coefficient', fontsize=6.3)

# ---- D
ax = add_ax(409.3, 311.7, 489.3, 438.3)
sns.heatmap(pd.DataFrame(d_values, index=d_genes), ax=ax, cmap=heat_cmap, vmin=-1.55, vmax=1.55, cbar=False,
            xticklabels=False, yticklabels=True)
ax.axvline(3, color='white', lw=0.6)
ax.yaxis.tick_right()
ax.tick_params(axis='y', length=0, pad=5.5, labelsize=7, labelcolor='#222222')
for t in ax.get_yticklabels():
    t.set_rotation(0)
    t.set_fontstyle('italic')
ax.set_ylabel('')
group_bar(411, 449, 439)
group_bar(451, 488, 439)
put_text(431.5, 458, 'T-bet$^{+}$\ncDC2', rotation=50, fontsize=7.5, color='#444444', linespacing=1.0)
put_text(468, 458, 'T-bet$^{-}$\ncDC2', rotation=50, fontsize=7.5, color='#444444', linespacing=1.0)
z_bar((562.7, 314, 568.3, 381.7), -1.5, 1.5, [-1.5, -1, -0.5, 0, 0.5, 1, 1.5], 3.8)
put_text(550, 348, 'z-score', rotation=90, fontsize=4.8)

# ---- E
ax = add_ax(45, 628.3, 233.3, 824)
sns.kdeplot(x=dens_e_x, y=dens_e_y, weights=dens_e_w, fill=True, cmap=grey_e, levels=30, thresh=0.003,
            bw_adjust=0.3, gridsize=200, ax=ax)
sns.scatterplot(x=e_black_x, y=e_black_y, color='black', s=2.5, lw=0, ax=ax)
sns.scatterplot(x=e_red_x, y=e_red_y, color='#B3173F', marker='s', s=5.5, lw=0, ax=ax)
sns.scatterplot(x=e_green_x, y=e_green_y, color='#66A82E', marker='s', s=5.5, lw=0, ax=ax)
ax.set_xlim(-10.44, 10.44)
ax.set_ylim(-4.07, 4.07)
ax.set_xticks([-10, -5, 0, 5, 10])
ax.set_xticklabels(['\u221210', '\u22125', '0', '5', '10'])
ax.set_yticks([-4, -2, 0, 2, 4])
ax.set_yticklabels(['\u22124', '\u22122', '0', '2', '4'])
ax.tick_params(labelsize=6, pad=3)
r_axes(ax)
ax.set_xlabel('')
ax.set_ylabel('')
key = [Line2D([], [], ls='', marker='o', ms=1.2, color='black', label='differentially expressed, including:'),
       Line2D([], [], ls='', marker='s', ms=2.0, color='#B3173F', label='more accessible in cDC2 Tbet+'),
       Line2D([], [], ls='', marker='s', ms=2.0, color='#66A82E', label='more accessible in cDC2 Tbet\u2212')]
leg = ax.legend(handles=key, loc='upper left', bbox_to_anchor=(0.02, 0.945), fontsize=3.5, frameon=True, fancybox=False,
                framealpha=0.75, edgecolor='#333333', borderpad=0.6, labelspacing=0.75, handletextpad=0.2, borderaxespad=0)
leg.get_frame().set_linewidth(0.5)
put_text(94.5, 634, "Spearman's \u03c1 = 0.57", fontsize=6.3)
put_text(140, 847, 'gene RNA\u2212seq', fontsize=7)
put_text(140, 858, 'log$_{2}$FC (cDC2 T-bet$^{+}$ / cDC2 T-bet$^{-}$)', fontsize=7)
put_text(5.5, 729, 'mean peak ATAC\u2212seq', fontsize=7, rotation=90)
put_text(17.5, 728, 'log$_{2}$FC (cDC2 T-bet$^{+}$ / cDC2 T-bet$^{-}$)', fontsize=7, rotation=90)

# ---- F
ax = add_ax(312.3, 648.3, 741, 820.7)
red_rgb = np.array(to_rgb('#B3173F'))
green_rgb = np.array(to_rgb('#5FA32C'))
for i, top, r, g in zip(peak_idx, peak_top, peak_red, peak_green):
    base = rna_base[i]
    # red tip fading through pale to a green foot, opacity taken from the peak strengths
    strip = np.array([[[*red_rgb, r]], [[*red_rgb, r * 0.45]], [[*green_rgb, g * 0.2]], [[*green_rgb, g]]])
    ax.imshow(strip, extent=(i - 0.38, i + 0.38, base, top), aspect='auto', interpolation='bilinear', zorder=2)
sns.lineplot(x=[-4.9, 102.25], y=[0, 0], color='#aaaaaa', lw=1, ax=ax, zorder=1, linestyle=(0, (5, 4)))
for i, name in enumerate(gene_names):
    ax.text(i, rna_base[i] - 0.15, name, rotation=90, ha='center', va='top', fontsize=4.4, color='#1a1a1a', clip_on=False)
ax.set_xlim(-4.9, 102.25)
ax.set_ylim(-10.02, 10.0)
ax.set_yticks([-10, -5, 0, 5, 10])
ax.set_yticklabels(['\u221210', '\u22125', '0', '5', '10'])
ax.set_xticks([])
ax.patch.set_alpha(0)
for side in ['top', 'right', 'bottom']:
    ax.spines[side].set_visible(False)
ax.spines['left'].set_linewidth(0.9)
ax.spines['left'].set_color('#222222')
ax.tick_params(axis='y', labelsize=6, length=3.5, width=0.8, pad=3, color='#222222', labelcolor='#333333')
for t in ax.get_yticklabels():
    t.set_rotation(90)
    t.set_va('center')
ax.set_xlabel('')
ax.set_ylabel('')
for art in ax.images:
    art.set_clip_on(False)
put_text(277, 734, 'RNA log2FC (cDC2 T-bet$^{+}$ / cDC2 T-bet$^{-}$)', fontsize=7.0, rotation=90)

fig.savefig('out.png', dpi=100)
